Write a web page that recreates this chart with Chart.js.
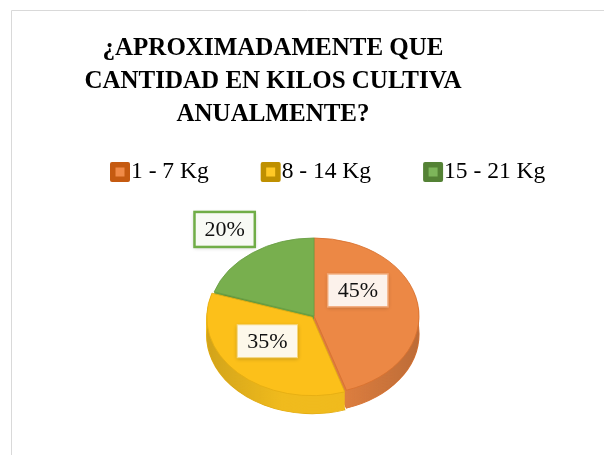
<!DOCTYPE html>
<html>
<head>
<meta charset="utf-8">
<script src="https://cdn.jsdelivr.net/npm/chart.js@4.4.0/dist/chart.umd.min.js"></script>
<style>
  html, body { margin: 0; padding: 0; background: #fff; }
  #wrap { width: 604px; height: 455px; }
</style>
</head>
<body>
<div id="wrap"><canvas id="myChart" width="604" height="455"></canvas></div>
<script>
// data
const titleLines = ["¿APROXIMADAMENTE QUE", "CANTIDAD EN KILOS CULTIVA", "ANUALMENTE?"];
const categories = ["1 - 7 Kg", "8 - 14 Kg", "15 - 21 Kg"];
const percents = [45, 35, 20];

// styles
const topColors = ["#EC8845", "#FCC01A", "#78AF4E"];
const edgeColors = ["#D9722F", "#E5AE12", "#6A9F45"];
const sideColors = ["#DC7E40", "#F0BB1E", "#66A040"];
const swatchBorder = ["#C55A11", "#BF9000", "#548235"];
const swatchInner = ["#F08A48", "#FFC926", "#7DB55A"];
const labelBox = [
  { fill: "#FCF2EB", stroke: "#F2A775", lw: 1.5 },
  { fill: "#FDF8EA", stroke: "#F6D67A", lw: 1 },
  { fill: "#F8FAF5", stroke: "#70AD47", lw: 2.5 }
];
const labelNudge = [[-8, -19.5], [-6, -5], [-58.5, -55]];

const TILT = 0.743; // vertical squash of the pie
const DEPTH = 18;   // thickness in screen px
const SERIF = "'Liberation Serif', 'Times New Roman', serif";

function slicePath(ctx, arc, dy) {
  const off = (arc.options.offset || 0) / 4;
  const mid = (arc.startAngle + arc.endAngle) / 2;
  const fix = 1 - Math.sin(Math.min(Math.PI, arc.endAngle - arc.startAngle));
  const x = arc.x + Math.cos(mid) * off;
  const y = arc.y + Math.sin(mid) * off + dy;
  ctx.beginPath();
  ctx.moveTo(x, y);
  ctx.arc(x, y, arc.outerRadius + off * fix, arc.startAngle, arc.endAngle);
  ctx.closePath();
}

const pie3d = {
  id: "pie3d",
  beforeDraw(chart) {
    const ctx = chart.ctx;
    ctx.save();
    ctx.strokeStyle = "#D9D9D9";
    ctx.lineWidth = 1;
    ctx.beginPath();
    ctx.moveTo(11.5, 455);
    ctx.lineTo(11.5, 10.5);
    ctx.lineTo(604, 10.5);
    ctx.stroke();
    ctx.restore();
  },
  beforeDatasetsDraw(chart) {
    const ctx = chart.ctx;
    const meta = chart.getDatasetMeta(0);
    const cx = meta.data[0].x, cy = meta.data[0].y;
    const R = meta.data[0].outerRadius;
    ctx.save();
    ctx.translate(cx, cy);
    ctx.scale(1, TILT);
    ctx.translate(-cx, -cy);
    const d = DEPTH / TILT;
    for (let k = d; k >= 0.5; k -= 1) {
      meta.data.forEach((arc, i) => {
        slicePath(ctx, arc, k);
        ctx.fillStyle = sideColors[i];
        ctx.fill();
        if (k === d) {
          ctx.strokeStyle = edgeColors[i];
          ctx.lineWidth = 1.2;
          ctx.stroke();
        }
      });
    }
    // soft shading on the side, darker toward the edges
    const shade = ctx.createLinearGradient(cx - R, 0, cx + R, 0);
    shade.addColorStop(0, "rgba(0,0,0,0.12)");
    shade.addColorStop(0.35, "rgba(0,0,0,0)");
    shade.addColorStop(0.65, "rgba(0,0,0,0)");
    shade.addColorStop(1, "rgba(0,0,0,0.14)");
    meta.data.forEach(arc => {
      slicePath(ctx, arc, d);
      ctx.fillStyle = shade;
      ctx.fill();
    });
  },
  afterDatasetsDraw(chart) {
    const ctx = chart.ctx;
    ctx.restore();
    const meta = chart.getDatasetMeta(0);
    ctx.save();
    ctx.font = "22px " + SERIF;
    ctx.textAlign = "center";
    ctx.textBaseline = "middle";
    meta.data.forEach((arc, i) => {
      const p = arc.tooltipPosition();
      const x = p.x + labelNudge[i][0];
      const y = arc.y + (p.y - arc.y) * TILT + labelNudge[i][1];
      const txt = percents[i] + "%";
      const w = ctx.measureText(txt).width + 20;
      const h = i === 2 ? 35 : 33;
      const st = labelBox[i];
      ctx.save();
      ctx.shadowColor = "rgba(0,0,0,0.22)";
      ctx.shadowBlur = 4;
      ctx.shadowOffsetY = 1;
      ctx.fillStyle = st.fill;
      ctx.fillRect(x - w / 2, y - h / 2, w, h);
      ctx.restore();
      ctx.strokeStyle = st.stroke;
      ctx.lineWidth = st.lw;
      ctx.strokeRect(x - w / 2, y - h / 2, w, h);
      ctx.fillStyle = "#111";
      ctx.fillText(txt, x, y + 1);
    });
    ctx.restore();
  },
  afterDraw(chart) {
    const ctx = chart.ctx;
    ctx.save();
    // title
    ctx.fillStyle = "#000";
    ctx.font = "bold 25px " + SERIF;
    ctx.textAlign = "center";
    ctx.textBaseline = "alphabetic";
    titleLines.forEach((line, i) => ctx.fillText(line, 273, 55 + i * 33));
    // legend
    ctx.font = "23.5px " + SERIF;
    ctx.textAlign = "left";
    let x = 110;
    categories.forEach((c, i) => {
      ctx.fillStyle = swatchBorder[i];
      ctx.beginPath();
      ctx.roundRect(x, 162, 20, 20, 2);
      ctx.fill();
      ctx.fillStyle = swatchInner[i];
      ctx.fillRect(x + 5.5, 167.5, 9, 9);
      ctx.fillStyle = "#000";
      ctx.fillText(c, x + 21, 178);
      x += 21 + ctx.measureText(c).width + 52;
    });
    ctx.restore();
  }
};

const ctx = document.getElementById("myChart").getContext("2d");
const myChart = new Chart(ctx, {
  type: "pie",
  data: {
    labels: categories,
    datasets: [
      {
        data: percents,
        backgroundColor: topColors,
        borderColor: edgeColors,
        borderWidth: 1,
        offset: [0, 10, 0], // the 8-14 Kg slice is pulled out a little
        clip: false
      }
    ]
  },
  options: {
    responsive: false,
    animation: false,
    events: [],
    radius: 105,
    layout: { padding: { left: 110, right: 86, top: 200, bottom: 23 } },
    plugins: {
      legend: { display: false },
      title: { display: false },
      tooltip: { enabled: false }
    }
  },
  plugins: [pie3d]
});
</script>
</body>
</html>
